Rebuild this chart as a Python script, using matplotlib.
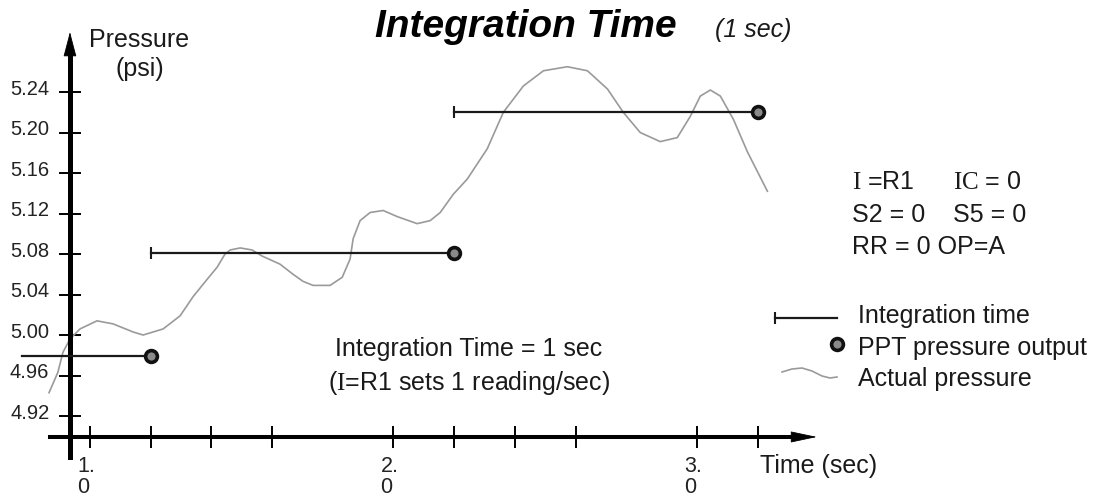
import numpy as np
import matplotlib
matplotlib.use("Agg")
import matplotlib.pyplot as plt
from matplotlib.lines import Line2D
from matplotlib.transforms import ScaledTranslation

plt.rcParams['font.family'] = ['Liberation Sans', 'DejaVu Sans']
plt.rcParams['mathtext.fontset'] = 'custom'
plt.rcParams['mathtext.rm'] = 'Liberation Serif'

# -------------------
# Data
# -------------------
# actual pressure trace: time (sec) / pressure (psi)
actual_t = [0.865, 0.894, 0.911, 0.934, 0.967, 1.023, 1.076, 1.142, 1.175, 1.241,
            1.297, 1.340, 1.386, 1.419, 1.445, 1.462, 1.495, 1.534, 1.567, 1.626,
            1.669, 1.702, 1.735, 1.791, 1.831, 1.857, 1.867, 1.890, 1.923, 1.966,
            2.012, 2.078, 2.121, 2.154, 2.197, 2.243, 2.309, 2.362, 2.428, 2.494,
            2.573, 2.639, 2.705, 2.757, 2.813, 2.879, 2.935, 2.978, 3.011, 3.044,
            3.077, 3.120, 3.166, 3.232]
actual_p = [4.943, 4.963, 4.983, 4.996, 5.006, 5.014, 5.011, 5.003, 5.000, 5.006,
            5.019, 5.038, 5.055, 5.067, 5.080, 5.084, 5.086, 5.084, 5.078, 5.070,
            5.060, 5.053, 5.049, 5.049, 5.057, 5.075, 5.095, 5.113, 5.121, 5.123,
            5.117, 5.110, 5.113, 5.121, 5.139, 5.154, 5.184, 5.220, 5.246, 5.261,
            5.265, 5.261, 5.243, 5.220, 5.200, 5.191, 5.195, 5.216, 5.236, 5.242,
            5.236, 5.213, 5.181, 5.142]

# integration windows and PPT outputs
window_start = [0.776, 1.2, 2.2]
window_end = [1.2, 2.2, 3.2]
ppt_output = [4.979, 5.081, 5.220]
window_cap = [False, True, True]

y_ticks = [4.92, 4.96, 5.00, 5.04, 5.08, 5.12, 5.16, 5.20, 5.24]
y_tick_labels = ['4.92', '4.96', '5.00', '5.04', '5.08', '5.12', '5.16', '5.20', '5.24']
x_major = [1.0, 2.0, 3.0]
x_major_labels = ['1.\n0', '2.\n0', '3.\n0']
x_minor = [1.2, 1.4, 1.6, 2.2, 2.4, 2.6, 3.2]

# -------------------
# Layout
# -------------------
W, H = 1095, 497
fig = plt.figure(figsize=(W / 100, H / 100), dpi=100)
ax = fig.add_axes([0, 0, 1, 1])
ax.set_xlim(0.7035, 4.3114)
ax.set_ylim(4.84, 5.3309)
ax.patch.set_visible(False)

y_axis_at = 0.934    # time where the pressure axis sits
x_axis_at = 4.8993   # pressure where the time axis sits

for s in ['top', 'right']:
    ax.spines[s].set_visible(False)
ax.spines['left'].set_position(('data', y_axis_at))
ax.spines['left'].set_bounds(4.8795, 5.280)
ax.spines['left'].set_linewidth(3.6)
ax.spines['bottom'].set_position(('data', x_axis_at))
ax.spines['bottom'].set_bounds(0.868, 3.32)
ax.spines['bottom'].set_linewidth(2.9)

# arrow heads
ax.annotate('', xy=(y_axis_at, 5.2993), xytext=(y_axis_at, 5.2765),
            arrowprops=dict(arrowstyle='-|>,head_length=1.6,head_width=0.42',
                            mutation_scale=10, color='black', lw=0.6,
                            shrinkA=0, shrinkB=0))
ax.annotate('', xy=(3.395, x_axis_at), xytext=(3.316, x_axis_at),
            arrowprops=dict(arrowstyle='-|>,head_length=1.7,head_width=0.36',
                            mutation_scale=10, color='black', lw=0.6,
                            shrinkA=0, shrinkB=0))

# ticks
ax.set_yticks(y_ticks, y_tick_labels)
ax.set_xticks(x_major, x_major_labels)
ax.set_xticks(x_minor, minor=True)
ax.tick_params(axis='both', which='both', direction='inout', length=15.8,
               width=1.4, color='black')
ax.tick_params(axis='y', pad=7)
ax.tick_params(axis='x', pad=5.5)
for lbl in ax.get_yticklabels():
    lbl.set_fontsize(14.5)
    lbl.set_color('#222222')
    lbl.set_transform(lbl.get_transform() + ScaledTranslation(0, 5 / 100, fig.dpi_scale_trans))
for lbl in ax.get_xticklabels():
    lbl.set_fontsize(15.5)
    lbl.set_color('#222222')
    lbl.set_multialignment('left')
    lbl.set_linespacing(1.0)
    lbl.set_transform(lbl.get_transform() + ScaledTranslation(-4 / 100, 0, fig.dpi_scale_trans))

# actual pressure
ax.plot(actual_t, actual_p, color='#9a9a9a', lw=1.2, zorder=2)

# integration windows + outputs
for t0, t1, p, cap in zip(window_start, window_end, ppt_output, window_cap):
    ax.plot([t0, t1], [p, p], color='#1a1a1a', lw=1.6, zorder=3)
    if cap:
        ax.plot([t0], [p], marker='|', ms=8, mew=1.5, color='#1a1a1a', zorder=3)
    ax.plot([t1], [p], marker='o', ms=8.5, mew=2.6, mfc='#8a8a8a', mec='#111111', zorder=4)


# -------------------
# Text
# -------------------
def px(x, y):
    return x / W, 1 - y / H


TXT = '#1a1a1a'
fig.text(*px(375, 37), 'Integration Time', fontsize=28, fontweight='bold',
         fontstyle='italic', color='black', va='baseline')
fig.text(*px(715, 37), '(1 sec)', fontsize=18, fontstyle='italic', color=TXT, va='baseline')

fig.text(*px(139, 47), 'Pressure', fontsize=18, color=TXT, ha='center', va='baseline')
fig.text(*px(140, 76), '(psi)', fontsize=18, color=TXT, ha='center', va='baseline')
fig.text(*px(760, 473), 'Time (sec)', fontsize=18, color=TXT, va='baseline')

fig.text(*px(469, 356), 'Integration Time = 1 sec', fontsize=18, color=TXT,
         ha='center', va='baseline')
fig.text(*px(469, 390), r'(${\rm I}$=R1 sets 1 reading/sec)', fontsize=18, color=TXT,
         ha='center', va='baseline')

fig.text(*px(852, 189), r'${\rm I}$ =R1', fontsize=18, color=TXT, va='baseline')
fig.text(*px(953, 189), r'${\rm IC}$ = 0', fontsize=18, color=TXT, va='baseline')
fig.text(*px(852, 222), 'S2 = 0', fontsize=18, color=TXT, va='baseline')
fig.text(*px(953, 222), 'S5 = 0', fontsize=18, color=TXT, va='baseline')
fig.text(*px(852, 254), 'RR = 0 OP=A', fontsize=18, color=TXT, va='baseline')

# legend
fig.text(*px(858, 323), 'Integration time', fontsize=18, color=TXT, va='baseline')
fig.text(*px(858, 355), 'PPT pressure output', fontsize=18, color=TXT, va='baseline')
fig.text(*px(858, 386), 'Actual pressure', fontsize=18, color=TXT, va='baseline')

leg_x = np.array([775, 837]) / W
leg_y = 1 - np.array([318, 318]) / H
fig.add_artist(Line2D(leg_x, leg_y, color='#1a1a1a', lw=1.6))
fig.add_artist(Line2D([leg_x[0]], [leg_y[0]], marker='|', ms=8, mew=1.5, color='#1a1a1a'))
fig.add_artist(Line2D([837 / W], [1 - 344 / H], marker='o', ms=8.5, mew=2.6,
                      mfc='#8a8a8a', mec='#111111'))
wave_x = np.array([782, 792, 802, 812, 822, 830, 837]) / W
wave_y = 1 - np.array([372, 369, 368, 371, 376, 378, 377]) / H
fig.add_artist(Line2D(wave_x, wave_y, color='#9a9a9a', lw=1.2))

fig.savefig('out.png', dpi=100)
